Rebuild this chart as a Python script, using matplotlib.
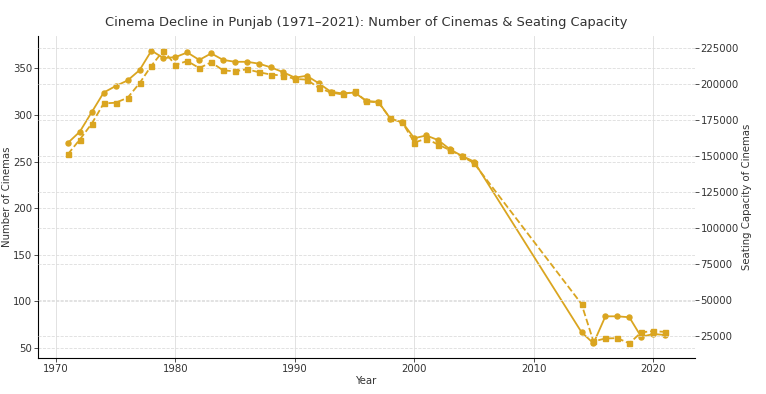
import matplotlib
matplotlib.use("Agg")
from matplotlib import pyplot as plt

years = [1971, 1972, 1973, 1974, 1975, 1976, 1977, 1978, 1979, 1980,
         1981, 1982, 1983, 1984, 1985, 1986, 1987, 1988, 1989, 1990,
         1991, 1992, 1993, 1994, 1995, 1996, 1997, 1998, 1999, 2000,
         2001, 2002, 2003, 2004, 2005,
         2014, 2015, 2016, 2017, 2018, 2019, 2020, 2021]

cinemas = [270, 282, 303, 324, 331, 337, 348, 369, 361, 362,
           367, 359, 366, 359, 357, 357, 355, 351, 346, 340,
           342, 334, 325, 323, 324, 315, 314, 296, 292, 275,
           278, 273, 263, 256, 250,
           67, 55, 84, 84, 83, 62, 65, 64]

seating = [151200, 161400, 172400, 186400, 186900, 190300, 200400, 212600, 223000, 213100,
           215800, 210900, 214900, 209300, 208700, 210100, 208000, 206400, 205700, 203400,
           202900, 197200, 194000, 192600, 194700, 187800, 187100, 176000, 173300, 159300,
           162000, 157900, 154000, 149800, 145000,
           47500, 21500, 23600, 23800, 20200, 27800, 28700, 28100]

color = '#DAA520'
text_color = '#333333'

plt.rcParams['font.family'] = 'DejaVu Sans'

fig = plt.figure(figsize=(7.66, 3.94), dpi=100)
ax1 = fig.add_axes([0.0496, 0.0914, 0.8577, 0.8173])
ax2 = ax1.twinx()

ax1.plot(years, cinemas, color=color, marker='o', markersize=3.6, linewidth=1.3, label='Number of Cinemas')
ax2.plot(years, seating, color=color, marker='s', markersize=3.6, linewidth=1.3, linestyle='--', label='Seating Capacity')

ax1.set_title('Cinema Decline in Punjab (1971\u20132021): Number of Cinemas & Seating Capacity',
              fontsize=9.4, color=text_color, pad=7)
ax1.set_xlabel('Year', fontsize=7.3, color=text_color, labelpad=2)
ax1.set_ylabel('Number of Cinemas', fontsize=7.3, color=text_color, labelpad=1)
ax2.set_ylabel('Seating Capacity of Cinemas', fontsize=7.3, color=text_color, labelpad=2)

for ax in (ax1, ax2):
    ax.tick_params(labelsize=7.3, colors=text_color, length=3, width=0.6, pad=1)
    ax.grid(True, color='#dddddd', linestyle='--', linewidth=0.6)
    ax.spines['top'].set_visible(False)
    ax.spines['right'].set_visible(False)
ax2.spines['left'].set_visible(False)
ax2.spines['bottom'].set_visible(False)
ax1.grid(True, axis='x', color='#dddddd', linestyle='-', linewidth=0.6)

fig.savefig('out.png', dpi=100)
